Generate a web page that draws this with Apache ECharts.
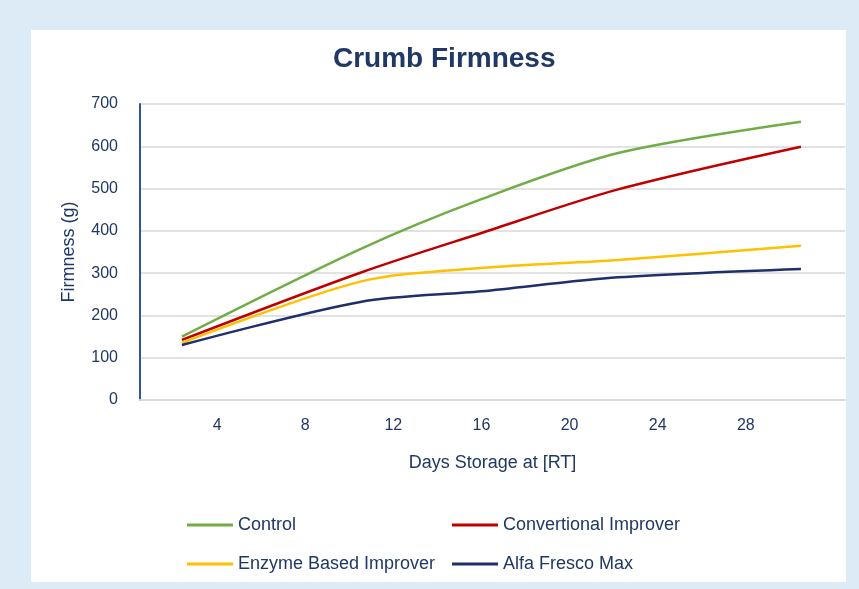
<!DOCTYPE html>
<html lang="en">
<head>
  <meta charset="utf-8">
  <title>Crumb Firmness</title>
  <script type="text/javascript" src="https://cdn.jsdelivr.net/npm/echarts@6/dist/echarts.min.js"></script>
  <style type="text/css">
    * {
      margin: 0;
      padding: 0;
    }
    html, body, #chart {
      width: 100%;
      height: 100%;
      overflow: hidden;
    }
  </style>
</head>
<body>
  <div id="chart"></div>
  <script type="text/javascript">
    // days of storage at room temperature
    var days = [2.4, 10.5, 16, 22.2, 30.5];
    var control = [150, 357, 475, 584, 658];
    var conventional = [142, 301, 395, 498, 599];
    var enzyme = [135, 280, 312, 331, 365];
    var alfaFresco = [130, 232, 257, 290, 310];
    var dayTicks = [4, 8, 12, 16, 20, 24, 28];

    var font = 'Liberation Sans';
    var navy = '#1f3864';

    function pairs(values) {
      return values.map(function (v, i) {
        return [days[i], v];
      });
    }

    function lineSeries(name, values, color) {
      return {
        type: 'line',
        name: name,
        data: pairs(values),
        smooth: 0.3,
        showSymbol: false,
        symbol: 'none',
        lineStyle: { color: color, width: 2.5 },
        itemStyle: { color: color }
      };
    }

    var legendText = { color: navy, fontFamily: font, fontSize: 18, lineHeight: 20 };

    var option = {
      backgroundColor: '#ddebf7',
      animation: false,
      graphic: [{
        type: 'rect',
        z: -10,
        shape: { x: 31, y: 30, width: 815, height: 552 },
        style: { fill: '#ffffff' }
      }],
      title: {
        text: 'Crumb Firmness',
        left: 328,
        top: 40,
        textStyle: { color: navy, fontFamily: font, fontSize: 28, fontWeight: 'bold' }
      },
      legend: [{
        orient: 'vertical',
        left: 182,
        top: 510,
        itemWidth: 46,
        itemHeight: 3,
        itemGap: 19,
        icon: 'rect',
        data: ['Control', 'Enzyme Based Improver'],
        textStyle: legendText
      }, {
        orient: 'vertical',
        left: 447,
        top: 510,
        itemWidth: 46,
        itemHeight: 3,
        itemGap: 19,
        icon: 'rect',
        data: ['Convertional Improver', 'Alfa Fresco Max'],
        textStyle: legendText
      }],
      grid: {
        left: 140,
        right: 14,
        top: 104,
        bottom: 189
      },
      xAxis: {
        type: 'value',
        min: 0.5,
        max: 32.5,
        name: 'Days Storage at [RT]',
        nameLocation: 'middle',
        nameGap: 54,
        nameTextStyle: { color: navy, fontFamily: font, fontSize: 18 },
        axisLine: { show: true, lineStyle: { color: '#d9d9d9', width: 2 } },
        axisTick: { show: false },
        splitLine: { show: false },
        axisLabel: {
          customValues: dayTicks,
          margin: 18,
          color: navy,
          fontFamily: font,
          fontSize: 16
        }
      },
      yAxis: {
        type: 'value',
        min: 0,
        max: 700,
        interval: 100,
        name: 'Firmness (g)',
        nameLocation: 'middle',
        nameGap: 62,
        nameTextStyle: { color: navy, fontFamily: font, fontSize: 18 },
        axisLine: { show: true, lineStyle: { color: '#2f5597', width: 2 } },
        axisTick: { show: false },
        splitLine: { lineStyle: { color: '#d9d9d9', width: 1.5 } },
        axisLabel: {
          margin: 22,
          color: navy,
          fontFamily: font,
          fontSize: 16
        }
      },
      series: [
        lineSeries('Control', control, '#70ad47'),
        lineSeries('Convertional Improver', conventional, '#c00000'),
        lineSeries('Enzyme Based Improver', enzyme, '#ffc000'),
        lineSeries('Alfa Fresco Max', alfaFresco, '#1f2f6b')
      ]
    };

    var chart = echarts.init(document.getElementById('chart'));
    chart.setOption(option);
  </script>
</body>
</html>
